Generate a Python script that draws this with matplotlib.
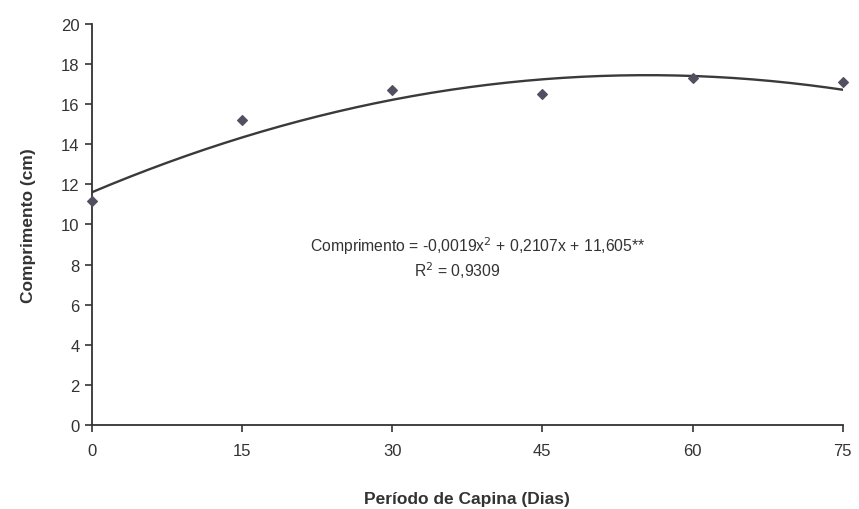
import numpy as np
import matplotlib
matplotlib.use('Agg')
import matplotlib.pyplot as plt

plt.rcParams['font.family'] = ['Liberation Sans', 'DejaVu Sans']

# Dados observados
dias = [0, 15, 30, 45, 60, 75]
comprimento = [11.15, 15.2, 16.7, 16.5, 17.3, 17.1]

# Coeficientes da regressão quadrática
coef_a = -0.0019
coef_b = 0.2107
coef_c = 11.605

x_ticks = [0, 15, 30, 45, 60, 75]
y_ticks = [0, 2, 4, 6, 8, 10, 12, 14, 16, 18, 20]

cor = '#333333'

fig = plt.figure(figsize=(8.59, 5.10), dpi=100)
ax = fig.add_axes([0.107, 0.165, 0.874, 0.786])

xs = np.linspace(0, 75, 200)
ax.plot(xs, coef_a * xs**2 + coef_b * xs + coef_c, color='#3a3a3a', lw=1.7, zorder=2)
ax.scatter(dias, comprimento, marker='D', s=24, color='#505060', zorder=3, clip_on=False)

ax.set_xlim(0, 75)
ax.set_ylim(0, 20)
ax.set_xticks(x_ticks)
ax.set_yticks(y_ticks)

for lado in ['top', 'right']:
    ax.spines[lado].set_visible(False)
for lado in ['left', 'bottom']:
    ax.spines[lado].set_color(cor)
    ax.spines[lado].set_linewidth(1.3)

ax.tick_params(axis='both', direction='out', length=5, width=1.2, colors=cor,
               labelsize=12, labelcolor=cor)
ax.tick_params(axis='x', pad=8)
ax.tick_params(axis='y', pad=4)

ax.set_xlabel('Período de Capina (Dias)', fontsize=12.5, fontweight='bold', color=cor, labelpad=24)
ax.set_ylabel('Comprimento (cm)', fontsize=12.5, fontweight='bold', color=cor, labelpad=18)

ax.text(38.5, 8.95, 'Comprimento = -0,0019x$^{2}$ + 0,2107x + 11,605**',
        ha='center', va='center', fontsize=11.3, color=cor)
ax.text(36.5, 7.75, 'R$^{2}$ = 0,9309', ha='center', va='center', fontsize=11.3, color=cor)

fig.savefig('out.png', dpi=100)
